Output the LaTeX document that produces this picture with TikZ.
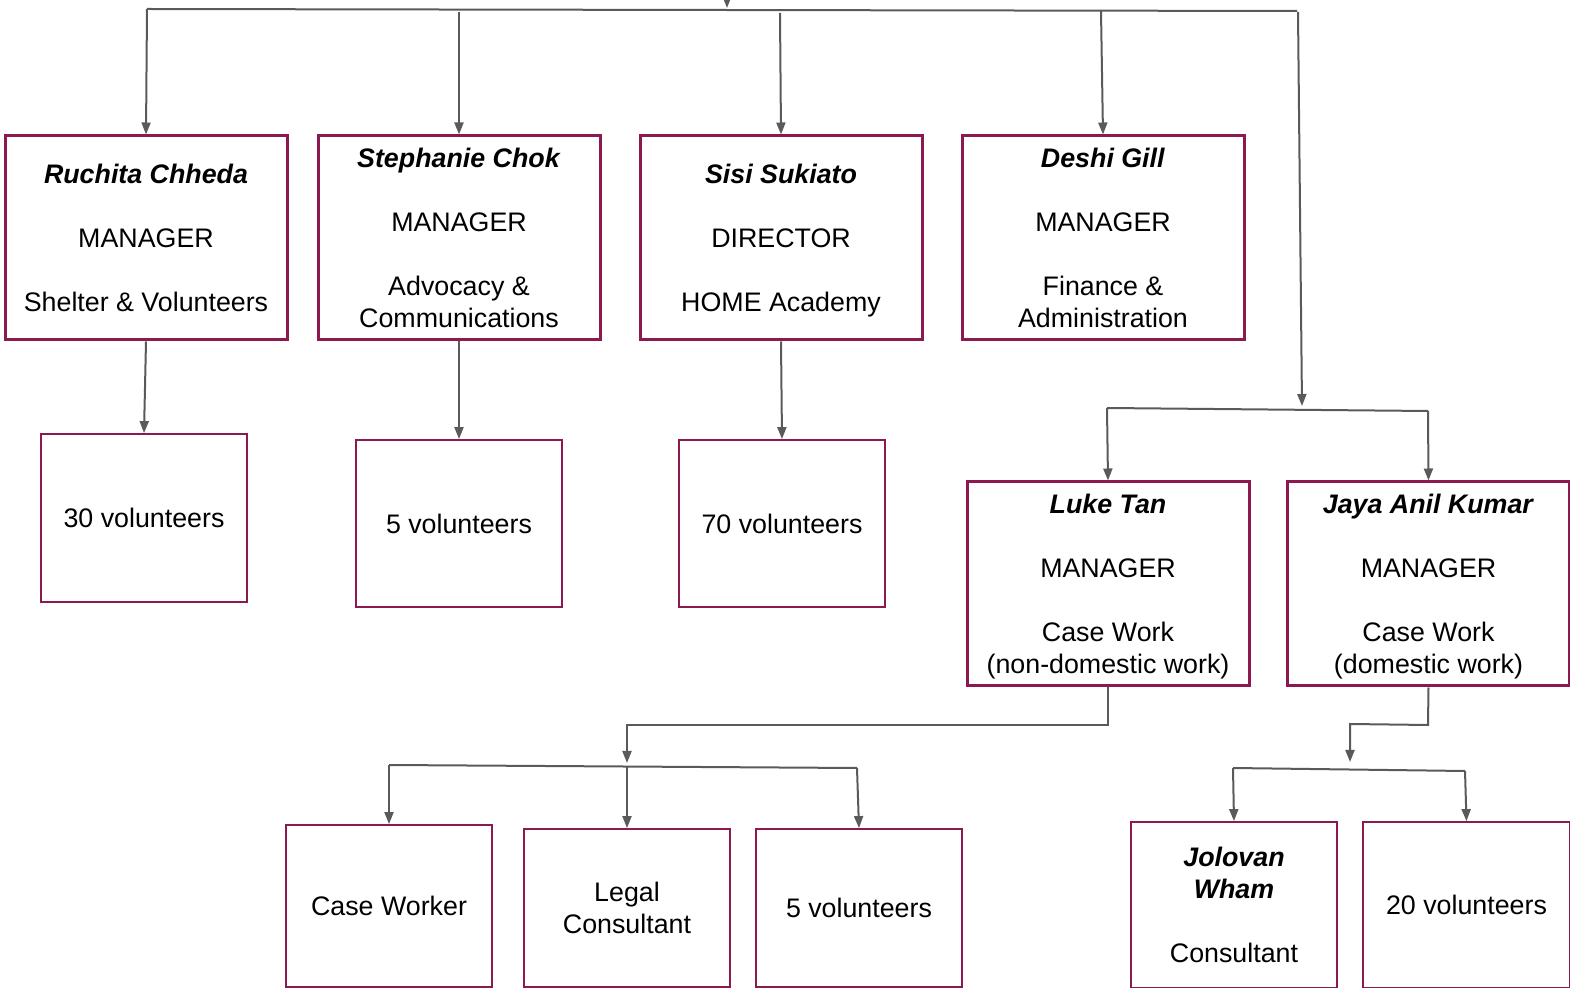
\documentclass[tikz,border=0pt]{standalone}
\usepackage{fontspec}
\setmainfont{Liberation Sans}
\usetikzlibrary{arrows.meta}
\definecolor{boxred}{HTML}{8C1A51}
\definecolor{conngray}{HTML}{5A5A5A}
\tikzset{
  mainbox/.style={draw=boxred, line width=1.5pt, fill=white, inner sep=0pt, align=center,
    minimum width=141pt, minimum height=102pt, font=\fontsize{13.4pt}{16pt}\selectfont},
  thinbox/.style={draw=boxred, line width=0.9pt, fill=white, inner sep=0pt, align=center,
    minimum width=103pt, font=\fontsize{13.4pt}{16pt}\selectfont},
  conn/.style={draw=conngray, line width=1pt},
  arr/.style={conn, -{Triangle[length=6pt,width=4.5pt]}},
}
\newcommand{\nm}[1]{\textbf{\textit{#1}}}
\newcommand{\nodepth}[1]{\raisebox{0pt}[\height][0pt]{#1}}
\begin{document}
\begin{tikzpicture}[x=0.5pt,y=-0.5pt]
\useasboundingbox (0,0) rectangle (1570,988);

% top row managers
\node[mainbox] (ruchita) at (146,238) {\nm{Ruchita Chheda}\\[16pt]MANAGER\\[16pt]Shelter \& Volunteers};
\node[mainbox] (stephanie) at (459,238) {\nm{Stephanie Chok}\\[16pt]MANAGER\\[16pt]Advocacy \&\\Communications};
\node[mainbox] (sisi) at (781,238) {\nm{Sisi Sukiato}\\[16pt]DIRECTOR\\[16pt]\nodepth{HOME Academy}};
\node[mainbox] (deshi) at (1103,238) {\nm{Deshi Gill}\\[16pt]MANAGER\\[16pt]Finance \&\\Administration};

% volunteers under top row
\node[thinbox, minimum height=84pt] (v30) at (144,518) {30 volunteers};
\node[thinbox, minimum height=83.5pt] (v5a) at (459,523.5) {5 volunteers};
\node[thinbox, minimum height=83.5pt] (v70) at (782,523.5) {70 volunteers};

% case work managers
\node[mainbox] (luke) at (1108,584) {\nm{Luke Tan}\\[16pt]MANAGER\\[16pt]Case Work\\\nodepth{(non-domestic work)}};
\node[mainbox] (jaya) at (1428.5,584) {\nm{Jaya Anil Kumar}\\[16pt]MANAGER\\[16pt]Case Work\\\nodepth{(domestic work)}};

% bottom row
\node[thinbox, minimum height=81pt] (caseworker) at (389,906) {Case Worker};
\node[thinbox, minimum height=79pt] (legal) at (627,908) {Legal\\Consultant};
\node[thinbox, minimum height=79pt] (v5b) at (859,908) {5 volunteers};
\node[thinbox, minimum height=83pt] (jolovan) at (1234,905) {\nm{Jolovan}\\\nm{Wham}\\[16pt]Consultant};
\node[thinbox, minimum height=83pt, minimum width=103.5pt] (v20) at (1466.5,905) {20 volunteers};

% top bus
\coordinate (topin) at (727,-30);
\coordinate (tophit) at (727,8);
\coordinate (busL) at (147,9);
\coordinate (busR) at (1297,11);
\coordinate (b2) at (459,12);
\coordinate (b3) at (780,13);
\coordinate (b4) at (1101,11);
\coordinate (b5) at (1298,12);
\coordinate (split) at (1302,406);
\draw[arr] (topin) -- (tophit);
\draw[conn] (busL) -- (busR);
\draw[arr] (busL) -- (ruchita.north);
\draw[arr] (b2) -- (stephanie.north);
\draw[arr] (b3) -- (sisi.north);
\draw[arr] (b4) -- (deshi.north);
\draw[arr] (b5) -- (split);

% managers to volunteers
\draw[arr] (ruchita.south) -- (v30.north);
\draw[arr] (stephanie.south) -- (v5a.north);
\draw[arr] (sisi.south) -- (v70.north);

% case work bus
\coordinate (cL) at (1107,408);
\coordinate (cR) at (1428,411);
\draw[conn] (cL) -- (cR);
\draw[arr] (cL) -- (luke.north);
\draw[arr] (cR) -- (jaya.north);

% Luke subtree
\coordinate (l1) at (1108,725);
\coordinate (l2) at (627,725);
\coordinate (l3) at (627,763);
\draw[arr] (luke.south) -- (l1) -- (l2) -- (l3);
\coordinate (lL) at (389,765);
\coordinate (lM) at (627,766);
\coordinate (lR) at (857,768);
\draw[conn] (lL) -- (lR);
\draw[arr] (lL) -- (caseworker.north);
\draw[arr] (lM) -- (legal.north);
\draw[arr] (lR) -- (v5b.north);

% Jaya subtree
\coordinate (j1) at (1428,725);
\coordinate (j2) at (1350,724);
\coordinate (j3) at (1350,762);
\draw[arr] (jaya.south) -- (j1) -- (j2) -- (j3);
\coordinate (jL) at (1233,768);
\coordinate (jR) at (1465,771);
\draw[conn] (jL) -- (jR);
\draw[arr] (jL) -- (jolovan.north);
\draw[arr] (jR) -- (v20.north);
\end{tikzpicture}
\end{document}
